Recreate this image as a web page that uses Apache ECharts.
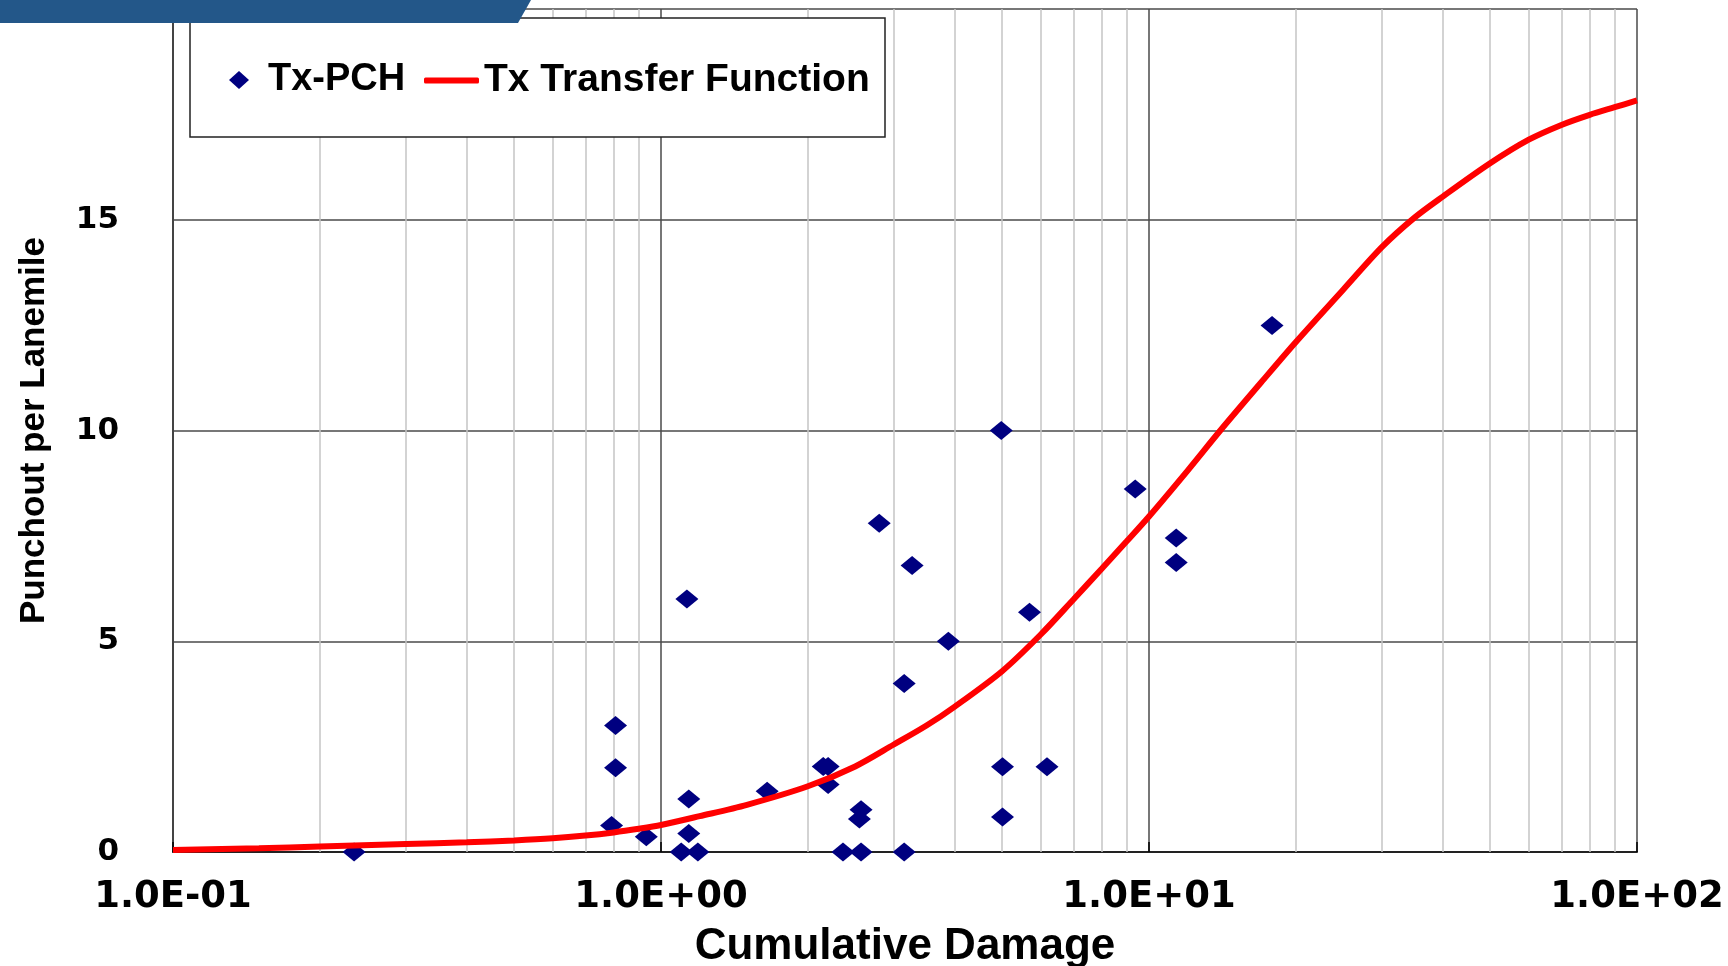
<!DOCTYPE html>
<html><head><meta charset="utf-8">
<script src="https://cdn.jsdelivr.net/npm/echarts@6/dist/echarts.min.js"></script>
<style>html,body{margin:0;padding:0;background:#fff}#c{width:1728px;height:966px}</style>
</head><body><div id="c"></div>
<script>
// Tx-PCH observations (Cumulative Damage, Punchout per Lanemile)
const pchX = [0.235, 0.807, 0.807, 0.792, 0.933, 1.10, 1.19, 1.13, 1.14, 1.14, 1.65, 2.15, 2.20, 2.20, 2.57, 2.55, 2.36, 2.57, 2.80, 3.27, 3.15, 3.15, 3.88, 4.98, 5.01, 5.01, 5.69, 6.18, 9.37, 11.37, 11.37, 17.87];
const pchY = [0, 3.0, 2.0, 0.63, 0.36, 0, 0, 6.0, 1.26, 0.44, 1.44, 2.03, 2.03, 1.6, 1.0, 0.78, 0, 0, 7.8, 6.8, 4.0, 0, 5.0, 10.0, 2.02, 0.83, 5.69, 2.02, 8.61, 7.45, 6.87, 12.49];
// Tx Transfer Function curve
const tfX = [0.1, 0.15, 0.2, 0.3, 0.4, 0.5, 0.6, 0.7, 0.8, 0.9, 1, 1.2, 1.5, 2, 2.5, 3, 3.5, 4, 5, 6, 7, 8, 9, 10, 12, 14, 17, 20, 25, 30, 35, 40, 50, 60, 70, 80, 90, 100];
const tfY = [0.05, 0.09, 0.13, 0.19, 0.23, 0.275, 0.325, 0.39, 0.465, 0.55, 0.64, 0.85, 1.12, 1.56, 2.03, 2.55, 3.0, 3.45, 4.29, 5.16, 5.99, 6.72, 7.37, 7.96, 9.05, 10.0, 11.15, 12.1, 13.34, 14.35, 15.05, 15.55, 16.34, 16.9, 17.25, 17.49, 17.67, 17.83];
// Axis tick labels
const xTickLabels = ['1.0E-01', '1.0E+00', '1.0E+01', '1.0E+02'];
const yTickLabels = ['0', '5', '10', '15'];
const minorGridX = [0.2, 0.3, 0.4, 0.5, 0.6, 0.7, 0.8, 0.9, 2, 3, 4, 5, 6, 7, 8, 9, 20, 30, 40, 50, 60, 70, 80, 90];

const seriesNames = ['Tx-PCH', 'Tx Transfer Function'];
const titleFont = "'Liberation Sans', Arial, sans-serif";
const tickFont = "'DejaVu Sans', Verdana, sans-serif";

const chart = echarts.init(document.getElementById('c'), null, {renderer: 'canvas'});
chart.setOption({
  animation: false,
  backgroundColor: '#ffffff',
  grid: {left: 173, right: 91, top: 9, bottom: 114, outerBoundsMode: 'none', containLabel: false},
  xAxis: {
    type: 'log', logBase: 10, min: 0.1, max: 100,
    name: 'Cumulative Damage', nameLocation: 'middle', nameGap: 73,
    nameTextStyle: {fontFamily: titleFont, fontWeight: 'bold', fontSize: 44, color: '#000'},
    axisLine: {show: true, onZero: false, lineStyle: {color: '#222', width: 2}},
    axisTick: {show: true, inside: true, length: 10, lineStyle: {color: '#000', width: 1.5}},
    axisLabel: {
      margin: 27, fontFamily: tickFont, fontWeight: 'bold', fontSize: 37, color: '#000',
      formatter: v => xTickLabels[Math.round(Math.log10(v)) + 1] || ''
    },
    splitLine: {show: true, lineStyle: {color: '#4a4a4a', width: 1.5}}
  },
  yAxis: {
    type: 'value', min: 0, max: 20, interval: 5,
    name: 'Punchout per Lanemile', nameLocation: 'middle', nameGap: 121,
    nameTextStyle: {fontFamily: titleFont, fontWeight: 'bold', fontSize: 35, color: '#000'},
    axisLine: {show: true, lineStyle: {color: '#444', width: 2}},
    axisTick: {show: false},
    axisLabel: {
      margin: 54, fontFamily: tickFont, fontWeight: 'bold', fontSize: 31, color: '#000',
      showMaxLabel: false,
      formatter: v => yTickLabels[Math.round(v / 5)] || ''
    },
    splitLine: {show: true, lineStyle: {color: '#4a4a4a', width: 1.5}}
  },
  legend: [
    {
      data: [{name: seriesNames[0], icon: 'diamond'}],
      left: 229, top: 61, padding: 0, z: 6,
      itemWidth: 20, itemHeight: 18, symbolKeepAspect: false,
      itemStyle: {color: '#000080', opacity: 1},
      textStyle: {fontFamily: titleFont, fontWeight: 'bold', fontSize: 38, color: '#000', padding: [0, 0, 0, 14]}
    },
    {
      data: [{name: seriesNames[1], icon: 'roundRect'}],
      left: 424, top: 61, padding: 0, z: 6,
      itemWidth: 55, itemHeight: 6,
      itemStyle: {color: '#ff0000', borderWidth: 0},
      textStyle: {fontFamily: titleFont, fontWeight: 'bold', fontSize: 39, color: '#000'}
    }
  ],
  graphic: [
    {type: 'rect', z: 5, shape: {x: 190, y: 18, width: 695, height: 119},
     style: {fill: '#ffffff', stroke: '#222', lineWidth: 1.5}},
    {type: 'polygon', z: 20, shape: {points: [[0, 0], [531, 0], [518, 23], [0, 23]]},
     style: {fill: '#235789'}}
  ],
  series: [
    {
      name: seriesNames[0], type: 'scatter', z: 3, clip: false,
      symbol: 'diamond', symbolSize: [23, 19],
      itemStyle: {color: '#000080', opacity: 1},
      data: pchX.map((x, i) => [x, pchY[i]])
    },
    {
      name: seriesNames[1], type: 'line', z: 4, symbol: 'none', smooth: 0.3,
      lineStyle: {color: '#ff0000', width: 6},
      itemStyle: {color: '#ff0000'},
      data: tfX.map((x, i) => [x, tfY[i]]),
      markLine: {
        z: 1, silent: true, symbol: ['none', 'none'], label: {show: false},
        lineStyle: {color: '#c4c4c4', width: 1.5, type: 'solid'},
        emphasis: {disabled: true},
        data: minorGridX.map(v => ({xAxis: v}))
      }
    }
  ]
});
</script></body></html>
